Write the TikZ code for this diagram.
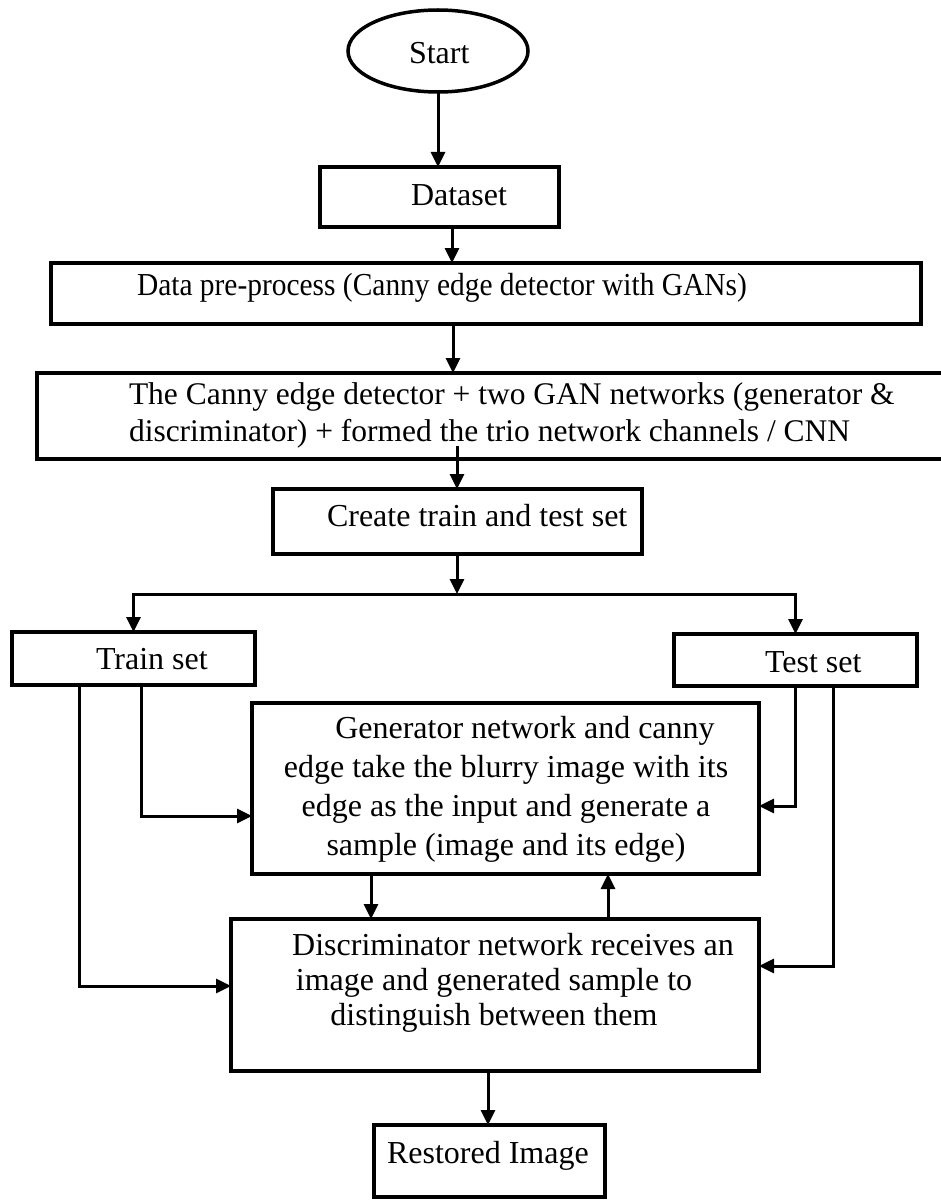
\documentclass[tikz,border=0pt]{standalone}
\usepackage{fontspec}
\setmainfont{Liberation Serif}
\newfontfamily\narrowserif{Liberation Serif}[FakeStretch=0.92]
\usetikzlibrary{arrows.meta,shapes.geometric}
\begin{document}
\begin{tikzpicture}[x=1pt,y={(0pt,-1pt)},
  box/.style={draw,line width=3.5pt,rectangle,inner sep=0pt,outer sep=0pt},
  oval/.style={draw,line width=3.5pt,ellipse,inner sep=0pt,outer sep=0pt},
  txt/.style={inner sep=0pt,outer sep=0pt,font=\fontsize{32}{38}\selectfont},
  arr/.style={line width=3pt,-{Triangle[length=15pt,width=14pt]}}]
\useasboundingbox (0,0) rectangle (941,1201);
\clip (0,0) rectangle (941,1201);
\fill[white] (0,0) rectangle (941,1201);

% frames
\node[oval, minimum width=180pt, minimum height=82pt] (start) at (438,51) {};
\node[box, minimum width=239pt, minimum height=60pt] (dataset) at (439.5,197) {};
\node[box, minimum width=870pt, minimum height=61pt] (prep) at (486,293.5) {};
\node[box, minimum width=923pt, minimum height=86pt] (canny) at (498.5,416) {};
\node[box, minimum width=369pt, minimum height=65pt] (create) at (457.5,521.5) {};
\node[box, minimum width=243pt, minimum height=53pt] (train) at (133.5,658.5) {};
\node[box, minimum width=243pt, minimum height=52pt] (test) at (795.5,660) {};
\node[box, minimum width=507pt, minimum height=171pt] (gen) at (505.5,788.5) {};
\node[box, minimum width=528pt, minimum height=152pt] (disc) at (495,995) {};
\node[box, minimum width=231pt, minimum height=72pt] (restored) at (489.5,1161) {};

% labels
\node[txt, anchor=base west] (start-t) at (409,64) {Start};
\node[txt, anchor=base west] (dataset-t) at (411,205) {Dataset};
\node[txt, anchor=base west, font=\narrowserif\fontsize{32}{38}\selectfont] (prep-t) at (137,295)
  {Data pre-process (Canny edge detector with GANs)};
\node[txt, align=left, anchor=west, font=\fontsize{31.5}{37}\selectfont] (canny-t) at (129,415.5)
  {The Canny edge detector + two GAN networks (generator \&\\discriminator) + formed the trio network channels / CNN};
\node[txt, anchor=base west] (create-t) at (327,526) {Create train and test set};
\node[txt, anchor=base west] (train-t) at (96,669) {Train set};
\node[txt, anchor=base west] (test-t) at (765,672) {Test set};
\node[txt, align=center, font=\fontsize{32}{39}\selectfont] (gen-t) at (506,789)
  {\hspace*{38pt}Generator network and canny\\edge take the blurry image with its\\edge as the input and generate a\\sample (image and its edge)};
\node[txt, align=center, font=\fontsize{32}{35}\selectfont] (disc-t) at (494,982.5)
  {\hspace*{38pt}Discriminator network receives an\\image and generated sample to\\distinguish between them};
\node[txt, anchor=base west] (restored-t) at (387,1163) {Restored Image};

% flow
\coordinate (split) at (457,594);
\draw[arr] (start.south) -- (start.south |- dataset.north);
\draw[arr] (452,0 |- dataset.south) -- (452,0 |- prep.north);
\draw[arr] (453,0 |- prep.south) -- (453,0 |- canny.north);
\draw[arr] (457,446) -- (457,0 |- create.north);
\draw[arr] (457,0 |- create.south) -- (split);
\draw[arr] (split) -| (train.north);
\draw[arr] (split) -| (test.north);
\draw[arr] (141,0 |- train.south) |- (gen.west |- 0,816);
\draw[arr] (79,0 |- train.south) |- (disc.west |- 0,986);
\draw[arr] (795,0 |- test.south) |- (gen.east |- 0,806);
\draw[arr] (833,0 |- test.south) |- (disc.east |- 0,966);
\draw[arr] (371,0 |- gen.south) -- (371,0 |- disc.north);
\draw[arr] (608,0 |- disc.north) -- (608,0 |- gen.south);
\draw[arr] (488,0 |- disc.south) -- (488,0 |- restored.north);
\end{tikzpicture}
\end{document}
